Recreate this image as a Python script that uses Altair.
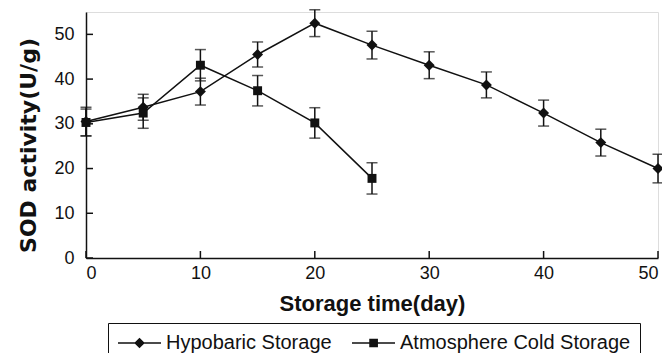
import altair as alt
import pandas as pd

# ---- data ----
days_h = [0, 5, 10, 15, 20, 25, 30, 35, 40, 45, 50]
hypo = [30.5, 33.7, 37.2, 45.5, 52.5, 47.6, 43.1, 38.7, 32.4, 25.8, 20.0]
hypo_err = [3.2, 2.9, 3.0, 2.8, 3.0, 3.1, 3.0, 2.9, 2.9, 3.0, 3.2]

days_a = [0, 5, 10, 15, 20, 25]
atm = [30.3, 32.4, 43.1, 37.4, 30.2, 17.8]
atm_err = [3.0, 3.4, 3.5, 3.4, 3.4, 3.5]

series_names = ["Hypobaric Storage", "Atmosphere Cold Storage"]
x_ticks = [0, 10, 20, 30, 40, 50]
y_ticks = [0, 10, 20, 30, 40, 50]

df_h = pd.DataFrame({"day": days_h, "value": hypo, "err": hypo_err, "series": series_names[0]})
df_a = pd.DataFrame({"day": days_a, "value": atm, "err": atm_err, "series": series_names[1]})
df_all = pd.concat([df_h, df_a], ignore_index=True)
df_all["lo"] = df_all["value"] - df_all["err"]
df_all["hi"] = df_all["value"] + df_all["err"]
df_xt = pd.DataFrame({"day": x_ticks})
df_yt = pd.DataFrame({"value": y_ticks})

W, H = 572, 246
INK = "#111111"

x_axis = alt.Axis(title="Storage time(day)", values=x_ticks, ticks=False, grid=False,
                  domainColor=INK, domainWidth=1.5, labelFont="Liberation Sans",
                  labelFontSize=18, labelColor=INK, labelPadding=6,
                  titleFont="Liberation Sans", titleFontSize=22, titleFontWeight="bold",
                  titleColor=INK, titlePadding=11, format="d")
y_axis = alt.Axis(title="SOD activity(U/g)", values=y_ticks, ticks=False, grid=False,
                  domainColor=INK, domainWidth=1.5, labelFont="Liberation Sans",
                  labelFontSize=18, labelColor=INK, labelPadding=12,
                  titleFont="DejaVu Sans", titleFontSize=22, titleFontWeight="bold",
                  titleColor=INK, titlePadding=13, titleY=133, format="d")

X = alt.X("day:Q", scale=alt.Scale(domain=[0, 50], nice=False), axis=x_axis)
Y = alt.Y("value:Q", scale=alt.Scale(domain=[0, 55], nice=False), axis=y_axis)

lines = alt.Chart(df_all).mark_line(color=INK, strokeWidth=1.5).encode(
    x=X, y=Y, detail="series:N")

err_rules = alt.Chart(df_all).mark_rule(color=INK, strokeWidth=1.5).encode(
    x=X, y=alt.Y("lo:Q"), y2="hi:Q")
cap_lo = alt.Chart(df_all).mark_tick(color=INK, orient="horizontal", size=11, thickness=1.5).encode(
    x=X, y=alt.Y("lo:Q"))
cap_hi = alt.Chart(df_all).mark_tick(color=INK, orient="horizontal", size=11, thickness=1.5).encode(
    x=X, y=alt.Y("hi:Q"))

pts_h = alt.Chart(df_h).mark_point(shape="diamond", filled=True, size=120, color=INK, opacity=1).encode(
    x=X, y=Y)
pts_a = alt.Chart(df_a).mark_point(shape="square", filled=True, size=80, color=INK, opacity=1).encode(
    x=X, y=Y)

# legend glyphs: a line through a marker (marker filled with stroked hatch lines)
sym_h = ("M-1,0H3.3M1.15,-0.42L1.57,0L1.15,0.42L0.73,0Z"
         "M0.86,-0.13H1.44M0.86,0.13H1.44M0.99,-0.26H1.31M0.99,0.26H1.31"
         "M1.09,-0.35H1.21M1.09,0.35H1.21")
sym_a = ("M-1,0H3.3M0.8,-0.36H1.52V0.36H0.8Z"
         "M0.8,-0.12H1.52M0.8,0.12H1.52M0.8,-0.24H1.52M0.8,0.24H1.52")

legend_layer = alt.Chart(df_all).mark_point(filled=False, opacity=0, color=INK, strokeWidth=1.5).encode(
    x=X, y=Y,
    shape=alt.Shape("series:N",
                    scale=alt.Scale(domain=series_names, range=[sym_h, sym_a]),
                    legend=alt.Legend(title=None, orient="none", legendX=22, legendY=311,
                                      direction="horizontal", strokeColor=INK, fillColor="white",
                                      padding=9, symbolSize=400, symbolOpacity=1,
                                      symbolStrokeColor=INK, symbolStrokeWidth=1.5,
                                      labelFont="Liberation Sans",
                                      labelFontSize=20, labelColor=INK, labelOffset=27,
                                      columnPadding=17, labelLimit=400)))

xt = alt.Chart(df_xt).mark_rule(color=INK, strokeWidth=1.5).encode(
    x=X, y=alt.value(H), y2=alt.value(H - 7))
yt = alt.Chart(df_yt).mark_rule(color=INK, strokeWidth=1.5).encode(
    y=Y, x=alt.value(0), x2=alt.value(7))

chart = alt.layer(lines, err_rules, cap_lo, cap_hi, pts_h, pts_a, legend_layer, xt, yt).properties(
    width=W, height=H,
    autosize=alt.AutoSizeParams(type="none"),
    padding={"left": 78, "top": 4, "right": 4, "bottom": 95},
).configure_view(stroke=None).configure(background="white")

chart.save("out.html", embed_options={"renderer": "svg", "actions": False})
